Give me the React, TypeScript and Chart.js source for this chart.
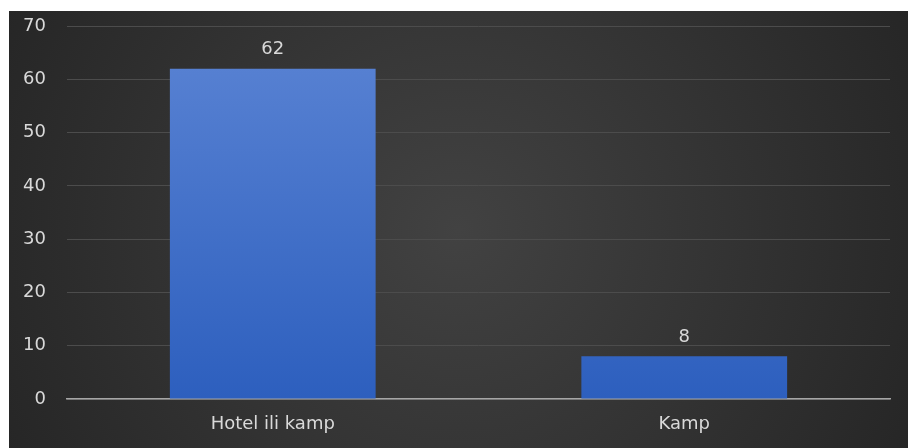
import React, { useEffect, useRef } from "react";
import { Chart, registerables } from "chart.js";

Chart.register(...registerables);

const categories = ["Hotel ili kamp", "Kamp"];
const values = [62, 8];
const yMin = 0;
const yMax = 70;
const yStep = 10;

const FONT = "'DejaVu Sans', sans-serif";
const FS = 18;

export default function App() {
  const ref = useRef<HTMLCanvasElement | null>(null);

  useEffect(() => {
    if (!ref.current) return;
    const bgPlugin = {
      id: "bg",
      beforeDraw(chart: any) {
        const { ctx, width, height } = chart;
        ctx.save();
        const g = ctx.createRadialGradient(width / 2, height / 2, 0, width / 2, height / 2, width * 0.6);
        g.addColorStop(0, "#424242");
        g.addColorStop(1, "#242424");
        ctx.fillStyle = g;
        ctx.fillRect(0, 0, width, height);
        ctx.restore();
      },
    };
    const labelPlugin = {
      id: "vals",
      afterDatasetsDraw(chart: any) {
        const { ctx } = chart;
        const meta = chart.getDatasetMeta(0);
        ctx.save();
        ctx.font = `${FS}px ${FONT}`;
        ctx.fillStyle = "#d9d9d9";
        ctx.textAlign = "center";
        ctx.textBaseline = "middle";
        meta.data.forEach((bar: any, i: number) => {
          ctx.fillText(String(values[i]), bar.x, bar.y - 19);
        });
        ctx.restore();
      },
    };
    const chart = new Chart(ref.current, {
      type: "bar",
      data: {
        labels: categories,
        datasets: [
          {
            data: values,
            backgroundColor: (c: any) => {
              const area = c.chart.chartArea;
              if (!area) return "#4472c4";
              const g = c.chart.ctx.createLinearGradient(0, area.top, 0, area.bottom);
              g.addColorStop(0, "#5b84d4");
              g.addColorStop(1, "#2d5fbe");
              return g;
            },
            borderWidth: 0,
            categoryPercentage: 1,
            barPercentage: 0.5,
          },
        ],
      },
      options: {
        animation: false,
        responsive: true,
        maintainAspectRatio: false,
        layout: { padding: { left: 0, right: 18, top: 15, bottom: 0 } },
        plugins: { legend: { display: false }, tooltip: { enabled: false } },
        scales: {
          x: {
            afterFit: (s: any) => {
              s.height = 49;
              s.paddingLeft = 0;
              s.paddingRight = 0;
            },
            grid: { display: false, drawTicks: false },
            border: { display: true, color: "#a6a6a6", width: 1.5 },
            ticks: { color: "#d9d9d9", font: { family: FONT, size: FS }, padding: 15 },
          },
          y: {
            min: yMin,
            max: yMax,
            afterFit: (s: any) => {
              s.width = 58;
              s.paddingTop = 0;
              s.paddingBottom = 0;
            },
            grid: { color: "#4c4c4c", lineWidth: 1, drawTicks: false },
            border: { display: false },
            ticks: { stepSize: yStep, color: "#d9d9d9", font: { family: FONT, size: FS }, padding: 21 },
          },
        },
      },
      plugins: [bgPlugin, labelPlugin],
    });
    return () => chart.destroy();
  }, []);

  return (
    <div style={{ position: "absolute", left: 9, top: 11, width: 899, height: 437 }}>
      <canvas ref={ref} />
    </div>
  );
}
